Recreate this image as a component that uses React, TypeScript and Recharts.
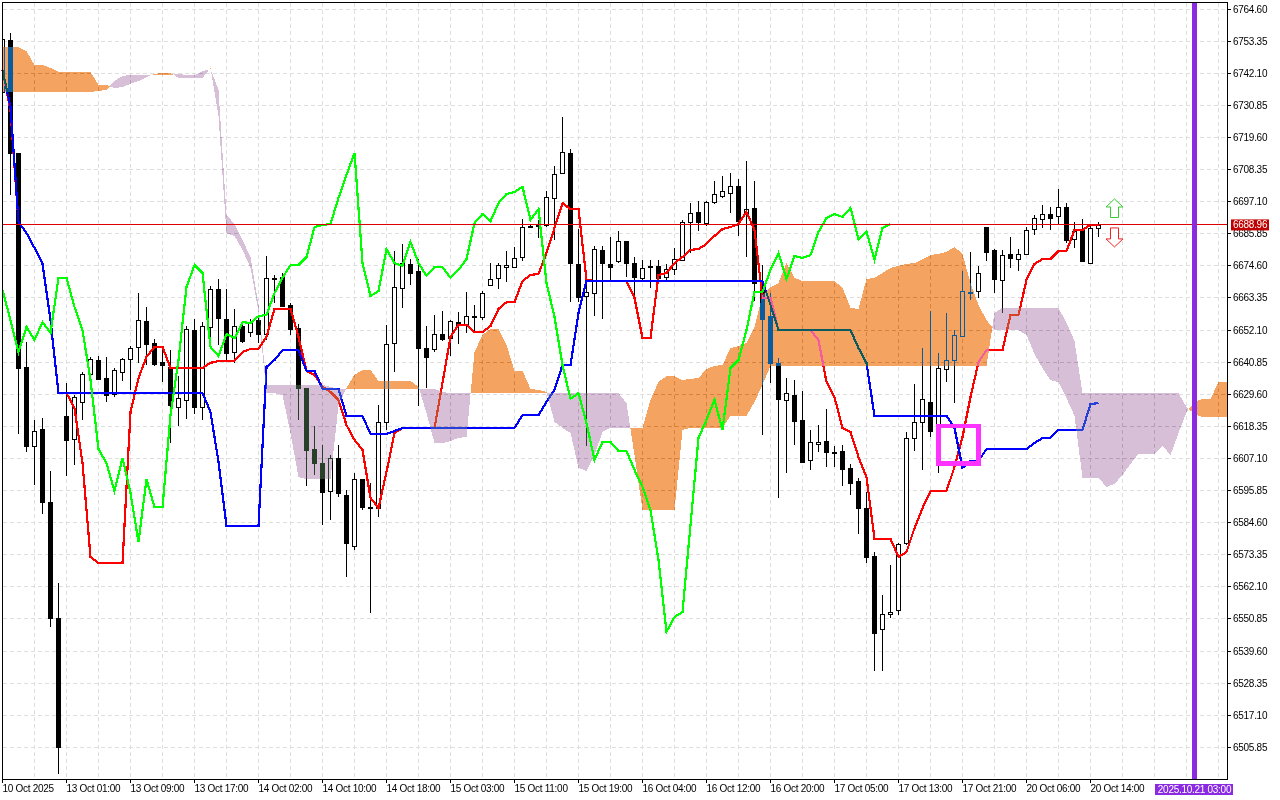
import {
  Area,
  Bar,
  CartesianGrid,
  ComposedChart,
  Line,
  ReferenceArea,
  ReferenceDot,
  ReferenceLine,
  XAxis,
  YAxis,
} from "recharts";

const opens = [6735.6,6753.8,6714.2,6639.2,6611.5,6617.4,6591.9,6551.2,6622.0,6613.9,6626.9,6636.7,6641.6,6635.3,6629.7,6637.4,6642.0,6646.2,6655.3,6647.6,6640.9,6639.2,6625.1,6627.6,6652.1,6625.1,6653.2,6666.5,6656.0,6644.4,6653.5,6651.4,6655.6,6650.7,6670.4,6670.7,6660.9,6652.8,6631.8,6610.4,6605.5,6595.7,6607.3,6594.3,6576.4,6599.9,6590.1,6589.7,6619.9,6647.6,6666.9,6675.3,6672.8,6645.8,6645.5,6650.7,6649.3,6654.9,6653.9,6656.7,6656.7,6667.9,6670.4,6674.2,6674.2,6677.7,6688.6,6688.6,6688.9,6698.4,6707.2,6714.2,6675.3,6664.0,6665.1,6680.2,6675.3,6676.3,6683.3,6675.6,6670.4,6674.6,6674.6,6670.7,6673.5,6676.7,6690.0,6693.5,6689.6,6697.0,6699.1,6700.2,6702.6,6692.8,6694.9,6668.6,6657.0,6640.6,6627.6,6629.3,6620.6,6606.6,6612.2,6613.2,6609.4,6609.7,6603.8,6599.2,6589.7,6572.9,6547.3,6552.6,6554.0,6577.5,6614.3,6619.9,6626.9,6617.1,6638.5,6641.6,6650.0,6665.1,6665.8,6688.2,6680.2,6669.7,6678.8,6677.0,6678.8,6687.5,6691.0,6692.8,6692.1,6695.2,6684.0,6687.2,6675.6,6687.9];
const highs = [6754.8,6756.2,6714.2,6647.9,6620.6,6621.3,6602.7,6563.5,6633.6,6629.3,6637.4,6642.7,6643.0,6642.7,6638.8,6642.3,6646.5,6665.1,6660.2,6649.0,6645.1,6645.1,6636.0,6653.5,6656.0,6654.9,6667.6,6670.0,6666.5,6659.5,6654.9,6656.0,6656.7,6678.1,6671.4,6672.1,6661.6,6654.2,6631.8,6618.5,6611.8,6608.3,6611.8,6596.1,6602.0,6599.9,6598.5,6625.8,6653.9,6679.8,6682.3,6677.0,6677.0,6653.5,6657.4,6658.8,6655.6,6658.4,6665.5,6660.9,6665.8,6675.6,6675.6,6679.8,6681.2,6691.0,6688.9,6690.7,6700.9,6709.6,6726.8,6715.6,6687.5,6669.7,6681.6,6681.6,6684.7,6686.8,6683.3,6677.7,6676.7,6676.7,6676.7,6675.3,6680.9,6690.7,6696.7,6697.4,6697.4,6704.4,6706.1,6707.2,6705.1,6711.4,6704.4,6674.9,6665.1,6642.3,6635.3,6634.6,6630.7,6617.1,6618.8,6624.4,6611.5,6611.8,6605.2,6600.2,6595.4,6574.3,6559.3,6569.8,6577.5,6616.4,6633.2,6645.8,6658.8,6644.1,6658.1,6652.1,6672.8,6679.5,6674.6,6688.2,6680.5,6680.2,6684.7,6680.5,6688.2,6692.4,6695.9,6695.2,6701.6,6696.6,6690.0,6691.0,6688.9,6690.0];
const lows = [6734.5,6699.5,6615.7,6609.4,6597.8,6587.6,6548.0,6496.5,6601.0,6604.8,6620.6,6635.3,6634.6,6626.9,6628.6,6634.2,6631.1,6640.6,6639.9,6639.5,6633.9,6612.5,6618.5,6620.9,6622.7,6620.6,6649.7,6646.9,6641.6,6640.6,6647.6,6649.7,6647.6,6648.6,6661.6,6660.2,6650.4,6620.6,6597.5,6601.3,6583.8,6585.5,6593.6,6565.6,6575.0,6589.0,6553.0,6586.6,6617.1,6637.4,6659.9,6667.9,6625.5,6631.8,6644.4,6648.3,6643.0,6647.2,6651.1,6651.8,6655.6,6667.9,6666.5,6669.0,6674.2,6676.3,6687.9,6684.4,6688.2,6683.7,6706.8,6661.9,6661.9,6611.5,6657.0,6656.0,6669.7,6675.6,6670.7,6663.4,6669.7,6666.9,6669.7,6669.7,6671.4,6676.7,6679.1,6686.8,6688.6,6696.3,6698.4,6693.1,6685.1,6677.7,6662.3,6615.3,6633.6,6593.3,6602.0,6611.8,6605.9,6603.1,6609.4,6604.1,6604.1,6597.5,6594.3,6580.6,6570.5,6532.6,6532.6,6551.2,6552.2,6576.8,6609.7,6603.1,6614.6,6602.0,6633.9,6626.5,6649.7,6662.7,6663.4,6676.3,6665.1,6658.1,6673.9,6672.8,6678.8,6685.4,6687.9,6687.2,6688.9,6682.6,6680.9,6676.0,6675.6,6684.7];
const closes = [6754.1,6714.2,6638.8,6611.5,6616.7,6591.9,6551.2,6506.0,6613.6,6628.6,6636.7,6642.0,6634.9,6629.3,6638.1,6642.0,6645.8,6655.6,6647.2,6640.2,6639.9,6625.8,6628.3,6652.5,6625.1,6653.5,6666.5,6656.3,6644.1,6653.5,6648.3,6654.9,6650.7,6670.4,6670.0,6660.5,6652.5,6631.8,6610.1,6605.5,6595.4,6607.3,6595.0,6577.5,6599.9,6590.1,6589.7,6619.9,6647.2,6667.2,6675.6,6672.1,6645.8,6642.7,6650.7,6649.0,6655.3,6653.9,6657.0,6657.0,6665.1,6670.0,6674.9,6674.9,6677.4,6688.2,6688.2,6688.9,6698.7,6706.8,6714.5,6675.6,6663.7,6665.5,6680.5,6675.6,6674.2,6683.3,6675.6,6670.7,6673.9,6674.2,6670.4,6673.5,6677.0,6690.0,6693.1,6690.0,6697.0,6699.8,6700.9,6702.6,6690.3,6694.5,6668.6,6656.0,6640.6,6627.9,6630.1,6620.2,6605.9,6612.9,6612.9,6609.4,6609.0,6603.4,6598.5,6589.7,6572.6,6545.9,6552.6,6553.3,6577.1,6614.3,6619.9,6628.0,6616.7,6638.8,6641.6,6650.4,6665.8,6665.5,6672.1,6679.5,6670.0,6678.4,6677.4,6678.8,6687.2,6691.4,6692.8,6691.4,6695.2,6683.7,6686.8,6676.3,6687.9,6688.96];

const tenkan = [6743.3,6729.2,6690.0,6686.1,6680.9,6675.3,6655.6,6630.0,6630.0,6624.8,6605.5,6572.6,6570.5,6570.5,6570.5,6570.5,6623.4,6635.3,6642.7,6646.2,6646.2,6638.8,6638.8,6638.8,6638.8,6638.8,6640.6,6641.3,6641.3,6641.3,6644.4,6645.5,6645.5,6649.7,6659.5,6659.5,6659.5,6649.7,6637.8,6636.4,6632.2,6630.4,6627.6,6618.8,6613.6,6610.1,6593.3,6589.7,6602.4,6616.0,6617.8,6617.8,6617.8,6617.8,6617.8,6633.6,6649.7,6653.9,6653.9,6651.4,6651.4,6653.5,6659.5,6661.9,6661.9,6669.3,6671.4,6671.8,6679.1,6687.9,6696.6,6694.5,6694.5,6669.7,6669.3,6669.3,6669.3,6669.3,6669.3,6663.4,6649.3,6649.3,6671.4,6672.1,6675.6,6677.7,6680.2,6680.5,6682.3,6685.1,6687.5,6688.2,6689.3,6693.5,6687.2,6663.4,6663.4,6652.1,6652.1,6652.1,6652.1,6652.1,6648.6,6633.9,6628.6,6617.8,6616.4,6607.6,6600.6,6578.9,6578.9,6578.9,6572.6,6574.3,6582.7,6589.7,6595.7,6595.7,6595.7,6604.1,6614.6,6628.6,6640.9,6645.1,6645.1,6645.1,6657.4,6657.4,6669.7,6675.3,6677.0,6677.0,6679.8,6679.8,6687.2,6687.2,6689.0,6689.0];

const kijun = [6743.3,6730.3,6690.0,6686.1,6680.9,6675.3,6655.6,6630.0,6630.0,6630.0,6630.0,6630.0,6630.0,6630.0,6630.0,6630.0,6630.0,6630.0,6630.0,6630.0,6630.0,6630.0,6630.0,6630.0,6630.0,6630.0,6623.4,6605.9,6583.4,6583.4,6583.4,6583.4,6583.4,6639.2,6641.6,6645.1,6645.1,6645.1,6637.8,6637.8,6631.5,6631.5,6631.5,6622.0,6622.0,6622.0,6615.7,6615.7,6615.7,6616.7,6617.8,6617.8,6617.8,6617.8,6617.8,6617.8,6617.8,6617.8,6617.8,6617.8,6617.8,6617.8,6617.8,6617.8,6617.8,6622.3,6622.3,6622.3,6626.9,6631.1,6639.9,6639.9,6658.1,6669.3,6669.3,6669.3,6669.3,6669.3,6669.3,6669.3,6669.3,6669.3,6669.3,6669.3,6669.3,6669.3,6669.3,6669.3,6669.3,6669.3,6669.3,6669.3,6669.3,6669.3,6669.3,6669.3,6660.9,6652.1,6652.1,6652.1,6652.1,6652.1,6652.1,6652.1,6652.1,6652.1,6652.1,6645.8,6640.6,6622.0,6622.0,6622.0,6622.0,6622.0,6622.0,6622.0,6622.0,6622.0,6622.0,6617.8,6603.8,6606.2,6606.2,6610.4,6610.4,6610.4,6610.4,6610.4,6610.4,6612.5,6614.3,6614.3,6617.1,6617.1,6617.1,6617.1,6626.2,6626.5];

const chikou = [6666.2,6655.6,6644.4,6653.2,6648.6,6654.9,6651.1,6670.4,6670.4,6660.2,6652.1,6634.6,6610.4,6605.5,6595.7,6607.3,6595.0,6577.8,6599.9,6590.1,6590.1,6622.3,6641.6,6667.2,6674.9,6672.1,6646.2,6643.0,6650.7,6649.3,6654.9,6654.6,6657.0,6657.4,6665.1,6670.4,6674.9,6674.9,6677.7,6688.2,6688.9,6689.3,6698.4,6706.5,6714.2,6675.6,6664.0,6665.8,6680.5,6675.6,6674.6,6683.0,6675.6,6671.1,6674.2,6674.2,6670.4,6673.2,6677.0,6689.6,6692.8,6690.3,6696.6,6699.8,6700.5,6702.3,6690.7,6694.5,6668.6,6656.7,6639.9,6628.0,6630.0,6619.5,6606.6,6612.9,6612.9,6609.7,6609.7,6603.1,6597.1,6589.0,6571.5,6546.3,6551.5,6553.3,6583.8,6614.3,6620.6,6627.6,6617.1,6638.8,6641.6,6652.1,6665.5,6665.5,6673.2,6679.1,6670.0,6678.1,6677.4,6678.4,6686.5,6691.4,6692.8,6691.7,6694.9,6684.0,6686.5,6676.7,6687.9,6689.3];

const spanA = [6751.3,6751.3,6751.3,6749.9,6745.0,6745.0,6744.0,6742.6,6742.6,6742.6,6742.6,6742.6,6738.0,6738.0,6736.9,6737.3,6738.4,6739.4,6740.8,6741.9,6742.2,6742.2,6740.5,6740.5,6740.5,6740.5,6744.0,6727.1,6686.0,6685.1,6680.2,6673.9,6658.5,6630.0,6630.0,6629.3,6616.0,6600.6,6599.9,6599.9,6599.9,6599.9,6625.8,6631.8,6636.4,6638.1,6638.1,6634.3,6634.3,6634.3,6634.3,6634.3,6632.2,6623.0,6612.5,6612.5,6613.2,6614.3,6614.6,6644.4,6650.4,6652.5,6652.5,6646.9,6637.8,6637.8,6631.5,6631.1,6630.4,6619.9,6617.8,6616.0,6603.8,6602.7,6608.3,6616.4,6617.8,6617.8,6617.8,6617.8,6617.8,6627.6,6633.9,6636.0,6636.0,6634.6,6635.0,6635.3,6638.5,6639.5,6639.9,6645.8,6646.5,6647.6,6653.2,6664.4,6667.2,6668.6,6675.6,6670.4,6669.3,6669.3,6669.3,6669.3,6669.3,6666.9,6659.9,6659.5,6670.0,6670.4,6672.1,6673.9,6674.6,6675.3,6675.6,6677.0,6678.4,6678.8,6679.5,6681.2,6678.8,6668.6,6660.9,6655.6,6652.1,6652.1,6652.1,6652.1,6650.4,6643.7,6638.8,6634.6,6633.9,6628.3,6622.0,6600.3,6600.3,6600.3,6597.1,6598.2,6601.3,6605.2,6608.7,6608.7,6608.7,6611.5,6608.3,6616.0,6623.4,6626.9,6628.0,6628.0,6633.9,6633.9];

const spanB = [6735.6,6735.6,6735.6,6735.6,6735.6,6735.6,6735.6,6735.6,6735.6,6735.6,6735.6,6735.6,6735.9,6736.3,6739.4,6741.2,6741.5,6741.5,6741.5,6741.5,6741.5,6741.5,6741.9,6741.5,6741.5,6742.9,6743.6,6736.3,6692.5,6689.3,6683.7,6677.7,6660.9,6632.9,6632.9,6632.9,6632.9,6632.9,6632.9,6632.9,6632.9,6632.2,6631.5,6631.5,6631.5,6631.5,6631.5,6631.5,6631.5,6631.5,6631.5,6631.5,6631.5,6631.5,6631.5,6630.4,6630.0,6630.0,6630.0,6630.0,6630.0,6630.0,6630.0,6630.0,6630.0,6630.0,6630.0,6630.0,6630.0,6630.0,6630.0,6630.0,6630.0,6630.0,6630.0,6630.0,6630.0,6630.0,6626.5,6608.3,6589.0,6589.0,6589.0,6589.0,6589.0,6617.1,6617.8,6617.8,6617.8,6617.8,6617.8,6622.0,6622.0,6622.0,6626.9,6632.9,6639.5,6639.5,6639.5,6639.5,6639.5,6639.5,6639.5,6639.5,6639.5,6639.5,6639.5,6639.5,6639.5,6639.5,6639.5,6639.5,6639.5,6639.5,6639.5,6639.5,6639.5,6639.5,6639.5,6639.5,6639.5,6639.5,6639.5,6639.5,6658.1,6659.9,6659.9,6659.9,6659.9,6659.9,6659.9,6659.9,6659.9,6654.6,6648.3,6630.0,6630.0,6630.0,6630.0,6630.0,6630.0,6630.0,6630.0,6630.0,6630.0,6630.0,6630.0,6630.0,6625.1,6622.7,6621.6,6621.6,6621.6,6621.6];

const priceTicks = [6764.6,6753.35,6742.1,6730.85,6719.6,6708.35,6697.1,6685.85,6674.6,6663.35,6652.1,6640.85,6629.6,6618.35,6607.1,6595.85,6584.6,6573.35,6562.1,6550.85,6539.6,6528.35,6517.1,6505.85];
const timeLabels = ["10 Oct 2025","13 Oct 01:00","13 Oct 09:00","13 Oct 17:00","14 Oct 02:00","14 Oct 10:00","14 Oct 18:00","15 Oct 03:00","15 Oct 11:00","15 Oct 19:00","16 Oct 04:00","16 Oct 12:00","16 Oct 20:00","17 Oct 05:00","17 Oct 13:00","17 Oct 21:00","20 Oct 06:00","20 Oct 14:00"];

const lastPrice = 6688.96;
const markerIndex = 149;
const markerLabel = "2025.10.21 03:00";
const lastIndex = 153.125;
const priceDomain = [6494.58, 6766.92];
const FONT = "'Liberation Sans', Arial, sans-serif";
const FONT_SIZE = 10;
const TIGHT = -0.28;

const timeTicks = [...timeLabels.map((_, n) => n * 8), markerIndex];
const gridIndexes = Array.from({ length: 39 }, (_, n) => n * 4);

const rows = opens.map((open, i) => ({
  i,
  open,
  high: highs[i],
  low: lows[i],
  close: closes[i],
  range: [lows[i], highs[i]],
  tenkan: tenkan[i],
  kijun: kijun[i],
  chikou: i < chikou.length ? chikou[i] : null,
}));

// split the two spans in runs, with the crossing point shared by both runs
function cloudRuns() {
  const runs: { up: boolean; points: { i: number; band: number[] }[] }[] = [];
  let run = { up: spanA[0] >= spanB[0], points: [] as { i: number; band: number[] }[] };
  spanA.forEach((a, i) => {
    const b = spanB[i];
    run.points.push({ i, band: [Math.min(a, b), Math.max(a, b)] });
    if (i + 1 < spanA.length) {
      const d0 = a - b;
      const d1 = spanA[i + 1] - spanB[i + 1];
      if (d0 * d1 < 0) {
        const t = d0 / (d0 - d1);
        const v = a + t * (spanA[i + 1] - a);
        run.points.push({ i: i + t, band: [v, v] });
        runs.push(run);
        run = { up: d1 > 0, points: [{ i: i + t, band: [v, v] }] };
      }
    }
  });
  runs.push(run);
  return runs;
}

function Candle(props: any) {
  const { x, y, width, height, payload } = props;
  if (height == null) return null;
  const k = height / (payload.high - payload.low || 1);
  const cx = Math.floor(x + width / 2) + 0.5;
  const up = payload.close >= payload.open;
  const top = Math.round(y + (payload.high - Math.max(payload.open, payload.close)) * k) + 0.5;
  const bottom = Math.max(top + 1, Math.round(y + (payload.high - Math.min(payload.open, payload.close)) * k) + 0.5);
  const left = payload.i === 0 ? cx : cx - 2;
  return (
    <g shapeRendering="crispEdges">
      {payload.i > 0 && <line x1={cx} x2={cx} y1={y} y2={y + height} stroke="#000" />}
      <rect x={left} y={top} width={cx + 2 - left} height={bottom - top} fill={up ? "#fff" : "#000"} stroke="#000" />
    </g>
  );
}

function PriceTick(props: any) {
  const { x, y, payload } = props;
  if (payload.value === lastPrice) {
    return (
      <g>
        <rect x={x + 3.5} y={y - 5.5} width={38} height={11} fill="#c00000" />
        <text x={x + 5.5} y={y + 3.5} fontSize={FONT_SIZE} letterSpacing={TIGHT} fontFamily={FONT} fill="#fff">
          {lastPrice.toFixed(2)}
        </text>
      </g>
    );
  }
  return (
    <g>
      <line x1={x} x2={x + 3} y1={y} y2={y} stroke="#000" shapeRendering="crispEdges" />
      <text x={x + 5.5} y={y + 3.5} fontSize={FONT_SIZE} letterSpacing={TIGHT} fontFamily={FONT} fill="#000">
        {payload.value.toFixed(2)}
      </text>
    </g>
  );
}

function TimeTick(props: any) {
  const { x, y, payload } = props;
  if (payload.value === markerIndex) {
    return (
      <g>
        <rect x={x - 39.5} y={y + 4.5} width={78} height={11} fill="#8a2be2" />
        <text x={x} y={y + 13.5} textAnchor="middle" fontSize={FONT_SIZE} letterSpacing={TIGHT} fontFamily={FONT} fill="#fff">
          {markerLabel}
        </text>
      </g>
    );
  }
  return (
    <g>
      <line x1={x} x2={x} y1={y} y2={y + 3} stroke="#000" shapeRendering="crispEdges" />
      <text x={x} y={y + 12.5} fontSize={FONT_SIZE} letterSpacing={TIGHT} fontFamily={FONT} fill="#000">
        {timeLabels[payload.value / 8]}
      </text>
    </g>
  );
}

function UpArrow({ cx, cy }: any) {
  return (
    <path
      d={`M${cx} ${cy - 9}L${cx + 8.5} ${cy - 1}H${cx + 4}V${cy + 9.5}H${cx - 4}V${cy - 1}H${cx - 8.5}Z`}
      fill="#fff"
      stroke="#32cd32"
    />
  );
}

function DownArrow({ cx, cy }: any) {
  return (
    <path
      d={`M${cx} ${cy + 9}L${cx + 8.5} ${cy + 1}H${cx + 4}V${cy - 10}H${cx - 4}V${cy + 1}H${cx - 8.5}Z`}
      fill="#fff"
      stroke="#ee2222"
    />
  );
}

const css = `
body { margin: 0; background: #fff; }
.cloud path { mix-blend-mode: difference; shape-rendering: crispEdges; }
.jag path { shape-rendering: crispEdges; }
.recharts-cartesian-grid line { shape-rendering: crispEdges; }
.recharts-reference-line line, .recharts-reference-area path, .recharts-reference-area rect, .recharts-cartesian-axis-line { shape-rendering: crispEdges; }
`;

export default function App() {
  return (
    <div style={{ width: 1280, height: 800 }}>
      <style>{css}</style>
      <ComposedChart
        width={1280}
        height={800}
        data={rows}
        margin={{ top: 2.5, right: 0, bottom: 0, left: 2.5 }}
      >
        <CartesianGrid
          fill="#fff"
          fillOpacity={1}
          stroke="#dedede"
          strokeDasharray="4 3"
          horizontalValues={priceTicks}
          verticalValues={gridIndexes}
        />
        <XAxis
          type="number"
          dataKey="i"
          domain={[0, lastIndex]}
          ticks={timeTicks}
          interval={0}
          axisLine={{ stroke: "#000" }}
          tickLine={false}
          tickSize={0}
          tickMargin={0}
          tick={<TimeTick />}
          height={20.5}
        />
        <YAxis
          type="number"
          orientation="right"
          domain={priceDomain}
          ticks={[...priceTicks, lastPrice]}
          interval={0}
          axisLine={{ stroke: "#000" }}
          tickLine={false}
          tickSize={0}
          tickMargin={0}
          tick={<PriceTick />}
          width={52.5}
        />
        <Bar zIndex={310} dataKey="range" barSize={5} shape={<Candle />} isAnimationActive={false} />
        <Line zIndex={320} className="jag" dataKey="tenkan" stroke="#ff0000" strokeWidth={2.2} dot={false} isAnimationActive={false} />
        <Line zIndex={321} className="jag" dataKey="kijun" stroke="#0000ff" strokeWidth={2.2} dot={false} isAnimationActive={false} />
        {cloudRuns().map((run, n) => (
          <Area
            zIndex={330}
            key={n}
            className="cloud"
            data={run.points}
            dataKey="band"
            type="linear"
            stroke="none"
            fill={run.up ? "#0b5b9f" : "#274027"}
            fillOpacity={1}
            dot={false}
            activeDot={false}
            isAnimationActive={false}
          />
        ))}
        <Line zIndex={340} className="jag" dataKey="chikou" stroke="#00ff00" strokeWidth={2.2} dot={false} isAnimationActive={false} />
        <ReferenceLine zIndex={350} y={lastPrice} stroke="#dc0000" strokeWidth={1} />
        <ReferenceLine zIndex={351} x={markerIndex} stroke="#8a2be2" strokeWidth={5} />
        <ReferenceArea zIndex={352} x1={117} x2={122} y1={6605.3} y2={6618.4} fill="none" stroke="#ff33ff" strokeWidth={4.5} />
        <ReferenceArea zIndex={349} x1={0} x2={lastIndex} y1={priceDomain[0]} y2={priceDomain[1]} fill="none" stroke="#000" strokeWidth={1} />
        <ReferenceDot zIndex={353} x={139} y={6694.9} shape={<UpArrow />} />
        <ReferenceDot zIndex={353} x={139} y={6684.4} shape={<DownArrow />} />
      </ComposedChart>
    </div>
  );
}
